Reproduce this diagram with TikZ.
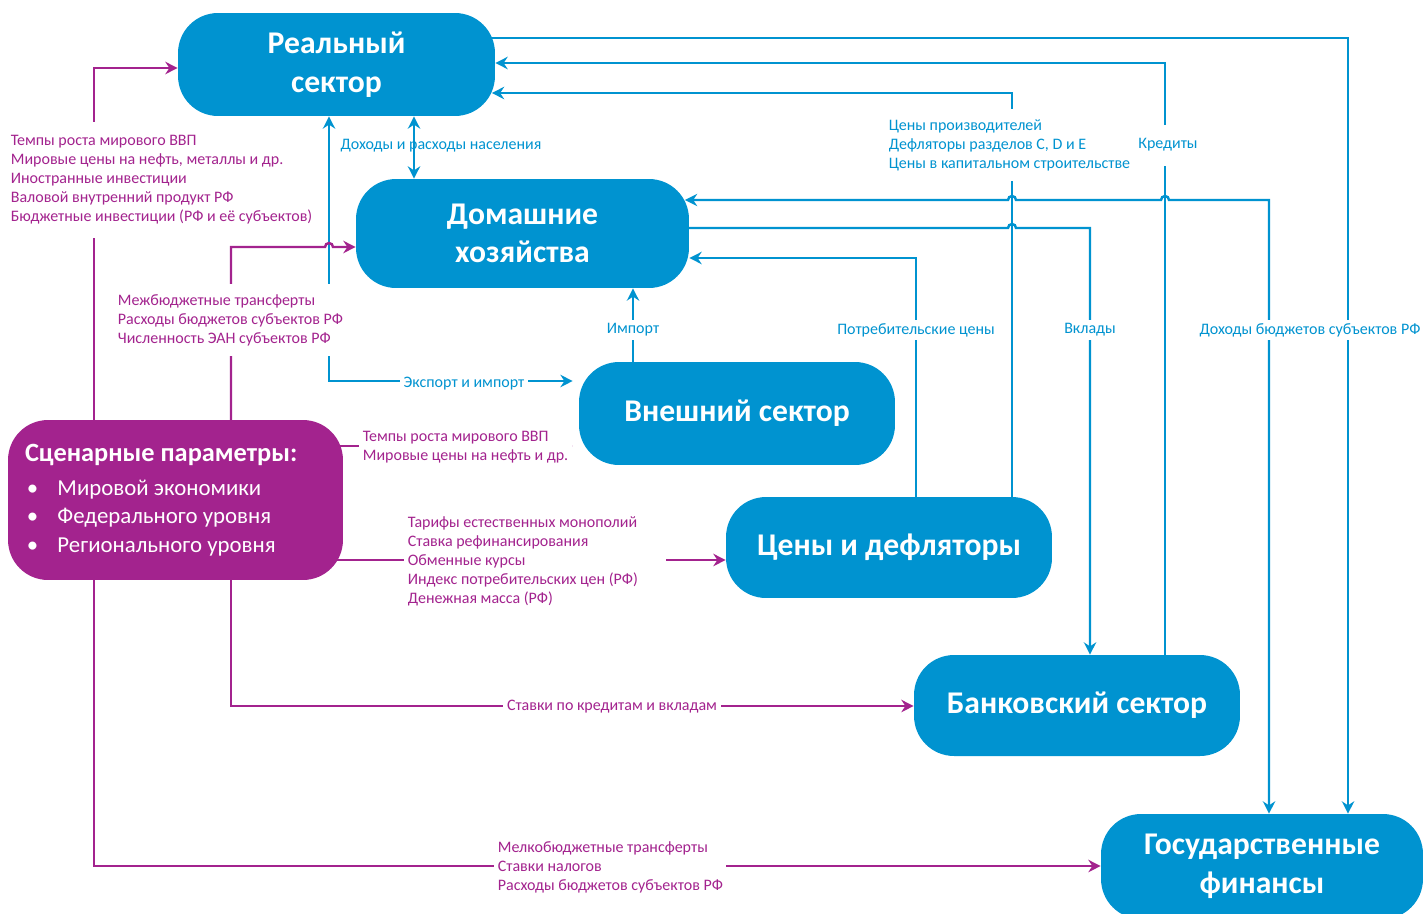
\documentclass[tikz,border=0pt]{standalone}
\usepackage{fontspec}
\setmainfont{Carlito}
\usetikzlibrary{arrows.meta}
\definecolor{B}{RGB}{0,147,208}
\definecolor{P}{RGB}{163,35,142}
\pgfdeclarelayer{background}
\pgfsetlayers{background,main}

\tikzset{
  sector/.style={rectangle, rounded corners=0.8cm, fill=B, text=white, align=center,
    font=\fontsize{18}{22}\selectfont\bfseries, inner sep=0pt},
  scenbox/.style={rectangle, rounded corners=0.8cm, fill=P, text=white, align=flush left,
    font=\fontsize{13}{16.2}\selectfont, inner xsep=0.34cm, inner ysep=0pt},
  bline/.style={draw=B, line width=1.4pt},
  pline/.style={draw=P, line width=1.4pt},
  blab/.style={text=B, font=\fontsize{9.1}{10.8}\selectfont, align=flush left, inner sep=2pt},
  plab/.style={text=P, font=\fontsize{9.1}{10.8}\selectfont, align=flush left, inner sep=2pt},
  cut/.style={fill=white}
}

\begin{document}
\begin{tikzpicture}[x=0.02cm, y=-0.02cm, >={Stealth[length=7pt,width=7pt]}]
    \useasboundingbox (0,0) rectangle (1423,913);

    % Bloques
    \node[sector, minimum width=6.34cm, minimum height=2.06cm] (real) at (336.5,64.5) {Реальный\\сектор};
    \node[sector, minimum width=6.66cm, minimum height=2.18cm] (hh) at (522.5,233.5) {Домашние\\хозяйства};
    \node[sector, minimum width=6.32cm, minimum height=2.06cm] (ext) at (737,413.5) {Внешний сектор};
    \node[sector, minimum width=6.52cm, minimum height=2.02cm] (prices) at (889,547.5) {Цены и дефляторы};
    \node[sector, minimum width=6.52cm, minimum height=2.02cm] (bank) at (1077,705.5) {Банковский сектор};
    \node[sector, minimum width=6.44cm, minimum height=2.1cm] (gov) at (1262,866.5) {Государственные\\финансы};

    % Сценарные параметры
    \node[scenbox, minimum width=6.7cm, minimum height=3.2cm, text width=6.02cm] (scen) at (175.5,500)
      {{\fontsize{15}{18}\selectfont\bfseries Сценарные параметры:}\\[3pt]
       \hspace*{1pt}\textbullet\hspace{11pt}Мировой экономики\\
       \hspace*{1pt}\textbullet\hspace{11pt}Федерального уровня\\
       \hspace*{1pt}\textbullet\hspace{11pt}Регионального уровня};

    \begin{pgfonlayer}{background}
    % Flechas azules
    \draw[bline,->] (real |- 0,38) -- (1348,38) -- (1348,0 |- gov.north);
    \draw[bline,->] (1165,0 |- bank) -- (1165,63) -- (real.east |- 0,63);
    \draw[bline,->,shorten >=-2pt] (1012,0 |- prices) -- (1012,93) -- (real.east |- 0,93);
    \draw[bline,<->,shorten <=-2.5pt] (hh.east |- 0,200) -- (1008,200) arc (180:360:4)
      -- (1161,200) arc (180:360:4) -- (1269,200) -- (1269,0 |- gov.north);
    \draw[bline,->] (hh |- 0,228) -- (1008,228) arc (180:360:4) -- (1090,228) -- (1090,0 |- bank.north);
    \draw[bline,->] (916,0 |- prices) -- (916,258) -- (hh.east |- 0,258);
    \draw[bline,->] (633,0 |- ext) -- (633,0 |- hh.south);
    \draw[bline,<->,shorten >=3.4pt] (329,0 |- real.south) -- (329,381) -- (ext.west |- 0,381);
    \draw[bline,<->] (414,0 |- real.south) -- (414,0 |- hh.north);

    % Flechas moradas
    \draw[pline,->] (94,0 |- scen) -- (94,68) -- (real.west |- 0,68);
    \draw[pline,->] (231,0 |- scen) -- (231,247) -- (325,247) arc (180:360:4) -- (hh.west |- 0,247);
    \draw[pline,->,shorten >=3.4pt] (scen |- 0,446) -- (ext.west |- 0,446);
    \draw[pline,->] (scen |- 0,560) -- (prices.west |- 0,560);
    \draw[pline,->] (231,0 |- scen) -- (231,706) -- (bank.west |- 0,706);
    \draw[pline,->] (94,0 |- scen) -- (94,866) -- (gov.west |- 0,866);
    \end{pgfonlayer}

    % Etiquetas
    \node[blab] (lhh) at (441,146) {Доходы и расходы населения};
    \node[blab, cut] (lexp) at (464,384) {Экспорт и импорт};
    \node[blab, cut] (limp) at (633,330) {Импорт};
    \node[blab, cut] (lcons) at (916,330) {Потребительские цены};
    \node[blab, cut] (ldep) at (1090,330) {Вклады};
    \node[blab, cut] (lbud) at (1310,330) {Доходы бюджетов субъектов РФ};
    \node[blab, cut, anchor=west, inner ysep=6pt] (lprod) at (885,145)
      {Цены производителей\\Дефляторы разделов C, D и E\\Цены в капитальном строительстве};
    \node[blab, cut, inner ysep=8pt] (lcred) at (1168,145) {Кредиты};

    \node[plab, cut, anchor=west, inner ysep=8pt] (lworld) at (7,180)
      {Темпы роста мирового ВВП\\Мировые цены на нефть, металлы и др.\\Иностранные инвестиции\\Валовой внутренний продукт РФ\\Бюджетные инвестиции (РФ и её субъектов)};
    \node[plab, cut, anchor=west, inner ysep=6pt] (ltrans) at (114,320)
      {Межбюджетные трансферты\\Расходы бюджетов субъектов РФ\\Численность ЭАН субъектов РФ};
    \node[plab, cut, anchor=west] (lext) at (359,447.5)
      {Темпы роста мирового ВВП\\Мировые цены на нефть и др.};
    \node[plab, cut, anchor=west, text width=5.1cm] (ltar) at (404,561)
      {Тарифы естественных монополий\\Ставка рефинансирования\\Обменные курсы\\Индекс потребительских цен (РФ)\\Денежная масса (РФ)};
    \node[plab, cut] (lrate) at (612,707) {Ставки по кредитам и вкладам};
    \node[plab, cut, anchor=west] (ltax) at (494,867)
      {Мелкобюджетные трансферты\\Ставки налогов\\Расходы бюджетов субъектов РФ};
\end{tikzpicture}
\end{document}
